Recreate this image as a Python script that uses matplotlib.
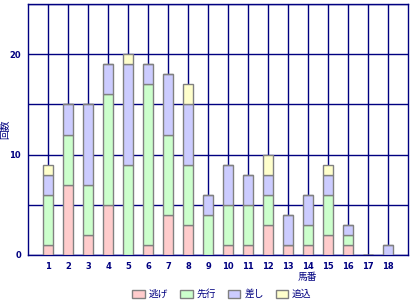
import matplotlib
matplotlib.use("Agg")
import matplotlib.pyplot as plt
import numpy as np
from matplotlib.patches import Patch

plt.rcParams['font.family'] = ['Noto Sans CJK JP', 'DejaVu Sans']

horses = [str(i) for i in range(1, 19)]
nige   = [1, 7, 2, 5, 0, 1, 4, 3, 0, 1, 1, 3, 1, 1, 2, 1, 0, 0]
senko  = [5, 5, 5, 11, 9, 16, 8, 6, 4, 4, 4, 3, 0, 2, 4, 1, 0, 0]
sashi  = [2, 3, 8, 3, 10, 2, 6, 6, 2, 4, 3, 2, 3, 3, 2, 1, 0, 1]
oikomi = [1, 0, 0, 0, 1, 0, 0, 2, 0, 0, 0, 2, 0, 0, 1, 0, 0, 0]
series_names = ['逃げ', '先行', '差し', '追込']
colors = ['#FFCCCC', '#CCFFCC', '#CCCCFF', '#FFFFCC']
yticks = [0, 10, 20]

navy = '#000080'
fig = plt.figure(figsize=(4.2, 3.0), dpi=100)
ax = fig.add_axes([28/420, 45/300, 380/420, 251/300])

x = np.arange(1, len(horses) + 1)
bottom = np.zeros(len(horses))
for vals, c in zip([nige, senko, sashi, oikomi], colors):
    v = np.array(vals, dtype=float)
    ax.bar(x, v, width=0.5, bottom=bottom, color=c, edgecolor='#808080',
           linewidth=1.0, zorder=3)
    bottom += v

ax.set_xlim(0, 19)
ax.set_ylim(0, 25)
ax.set_xticks(x)
ax.set_xticklabels(horses, fontsize=6, color=navy, fontweight='bold', family='DejaVu Sans')
ax.set_yticks([5, 15, 25], minor=True)
ax.set_yticks(yticks)
ax.set_yticklabels([str(t) for t in yticks], fontsize=6, color=navy, fontweight='bold', family='DejaVu Sans')
ax.tick_params(axis='both', which='both', length=0, pad=5)
ax.grid(True, which='both', color=navy, linewidth=1.0, zorder=0)
ax.set_axisbelow(True)
for s in ax.spines.values():
    s.set_color(navy)
    s.set_linewidth(1.0)

fig.text(5/420, 1 - 129/300, '回数', rotation=90, ha='center', va='center',
         fontsize=7, color=navy)
fig.text(307/420, 1 - 277/300, '馬番', ha='center', va='center',
         fontsize=7, color=navy)

handles = [Patch(facecolor=c, edgecolor='#808080', linewidth=1.0, label=n)
           for c, n in zip(colors, series_names)]
leg = fig.legend(handles=handles, loc='center', bbox_to_anchor=(222/420, 1 - 294/300),
                 ncol=4, frameon=False, fontsize=7, handlelength=1.3, handleheight=0.9,
                 handletextpad=0.4, columnspacing=1.2)
for t in leg.get_texts():
    t.set_color(navy)

fig.savefig('out.png', dpi=100, facecolor='white')
